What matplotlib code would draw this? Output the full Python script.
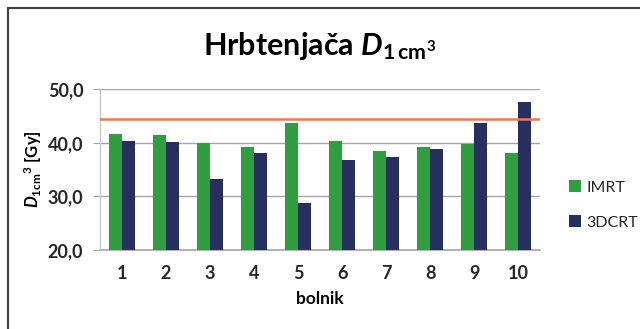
import matplotlib
matplotlib.use("Agg")
import matplotlib.pyplot as plt
from matplotlib.patches import Rectangle
import numpy as np

patients = ["1", "2", "3", "4", "5", "6", "7", "8", "9", "10"]
imrt = [41.7, 41.4, 39.9, 39.2, 43.8, 40.4, 38.5, 39.3, 39.8, 38.1]
dcrt = [40.3, 40.1, 33.2, 38.1, 28.8, 36.8, 37.3, 38.8, 43.8, 47.7]
limit = 44.4
yticks = [20.0, 30.0, 40.0, 50.0]

plt.rcParams["font.family"] = ["Lato", "DejaVu Sans"]
plt.rcParams["mathtext.fontset"] = "custom"
plt.rcParams["mathtext.it"] = "Lato:italic:bold"
plt.rcParams["mathtext.rm"] = "Lato:bold"
plt.rcParams["mathtext.bf"] = "Lato:bold"

text_col = "#262626"
grid_col = "#a6a6a6"
green = "#2f9e3f"
navy = "#262f5e"

fig = plt.figure(figsize=(6.4, 3.29), dpi=100)
ax = fig.add_axes([0.15625, 0.2401, 0.6875, 0.4885])

x = np.arange(len(patients))
w = 0.285
ax.bar(x - w / 2, imrt, w, color=green, label="IMRT", zorder=3)
ax.bar(x + w / 2, dcrt, w, color=navy, label="3DCRT", zorder=3)
ax.axhline(limit, color="#f2774f", lw=1.8, zorder=4)

ax.set_xlim(-0.5, len(patients) - 0.5)
ax.set_ylim(20, 50)
ax.set_yticks(yticks)
ax.set_yticklabels([f"{v:.1f}".replace(".", ",") for v in yticks])
ax.set_xticks(x)
ax.set_xticklabels(patients)
ax.yaxis.grid(True, color=grid_col, lw=1.0, zorder=0)

for s in ["top", "right", "bottom"]:
    ax.spines[s].set_visible(False)
ax.spines["left"].set_color("#c8c8c8")
ax.spines["left"].set_linewidth(1.0)
ax.axhline(20, color=grid_col, lw=1.2, zorder=2, clip_on=False)

ax.tick_params(axis="y", length=5, color=grid_col, labelsize=13,
               labelcolor=text_col, pad=7)
ax.tick_params(axis="x", length=0, labelsize=13, labelcolor=text_col, pad=11)
for lab in ax.get_xticklabels() + ax.get_yticklabels():
    lab.set_fontweight("bold")

ax.set_xlabel("bolnik", fontsize=12.5, fontweight="bold", color="#000000", labelpad=6)
ax.set_ylabel(r"$D_{\mathrm{1cm}}{}^{\mathrm{3}}$ [Gy]", fontsize=12,
              fontweight="bold", color="#000000", labelpad=3)

fig.text(0.5, 0.86, r"Hrbtenjača $D_{\mathrm{1\,cm}^{\mathrm{3}}}$", ha="center",
         va="center", fontsize=22, fontweight="bold", color="#000000")

leg = ax.legend(loc="center left", bbox_to_anchor=(1.045, 0.28), frameon=False,
                fontsize=11.5, handlelength=0.75, handleheight=0.75,
                handletextpad=0.3, labelspacing=1.3, borderaxespad=0.2)
for t in leg.get_texts():
    t.set_color(text_col)

# outer chart frame (only top and left visible in crop)
fig.patches.append(Rectangle((8 / 640, -0.1), 1.2, 1.1 - 8 / 329,
                             transform=fig.transFigure, fill=False,
                             edgecolor="#404040", lw=1.5))

fig.savefig("out.png", dpi=100)
